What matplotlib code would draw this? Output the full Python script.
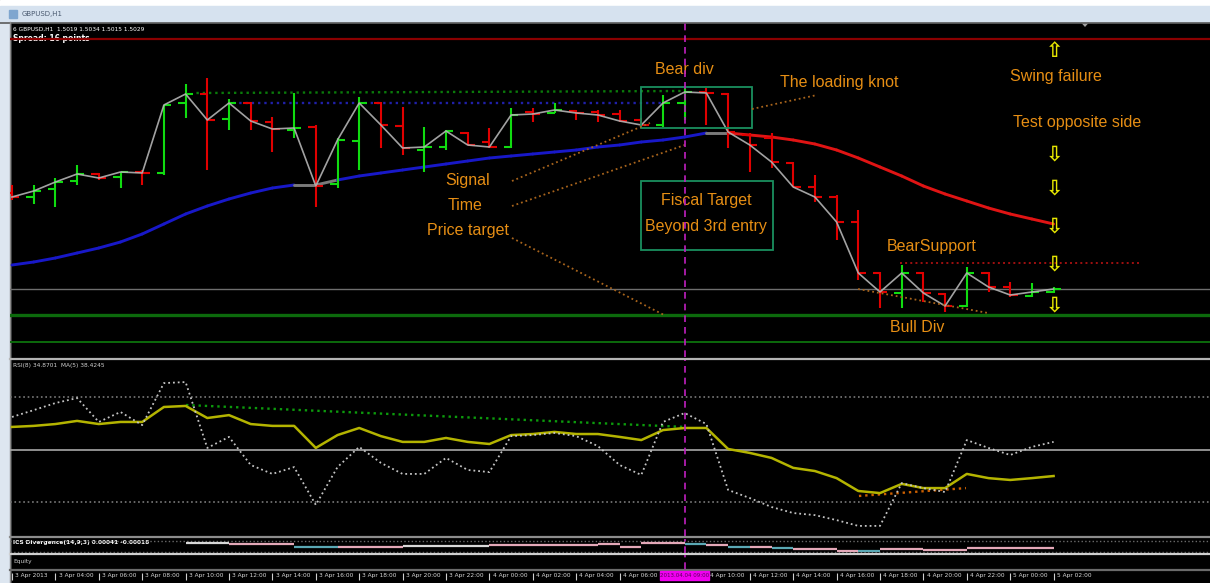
import matplotlib
matplotlib.use('Agg')
import matplotlib.pyplot as plt
from matplotlib.patches import Rectangle

# ---- data (GBPUSD H1) ----
opens = [1.5279, 1.5275, 1.5283, 1.5291, 1.5298, 1.5295, 1.5300, 1.5299, 1.5369, 1.5378,
         1.5353, 1.5369, 1.5350, 1.5342, 1.5345, 1.5288, 1.5331, 1.5369, 1.5346, 1.5322,
         1.5325, 1.5339, 1.5330, 1.5325, 1.5360, 1.5359, 1.5361, 1.5360, 1.5358, 1.5352,
         1.5347, 1.5369, 1.5380, 1.5378, 1.5337, 1.5334, 1.5309, 1.5285, 1.5275, 1.5250,
         1.5199, 1.5179, 1.5199, 1.5178, 1.5166, 1.5199, 1.5185, 1.5176, 1.5180]
highs = [1.5287, 1.5287, 1.5294, 1.5307, 1.5299, 1.5300, 1.5302, 1.5367, 1.5388, 1.5394,
         1.5373, 1.5370, 1.5355, 1.5379, 1.5347, 1.5334, 1.5375, 1.5370, 1.5365, 1.5345,
         1.5342, 1.5340, 1.5344, 1.5364, 1.5364, 1.5369, 1.5362, 1.5362, 1.5362, 1.5354,
         1.5377, 1.5384, 1.5384, 1.5379, 1.5339, 1.5339, 1.5310, 1.5297, 1.5277, 1.5262,
         1.5200, 1.5207, 1.5200, 1.5179, 1.5205, 1.5200, 1.5190, 1.5189, 1.5185]
lows = [1.5272, 1.5268, 1.5265, 1.5287, 1.5292, 1.5284, 1.5287, 1.5297, 1.5354, 1.5302,
        1.5342, 1.5342, 1.5320, 1.5334, 1.5265, 1.5284, 1.5302, 1.5324, 1.5317, 1.5300,
        1.5322, 1.5327, 1.5324, 1.5324, 1.5350, 1.5359, 1.5352, 1.5350, 1.5350, 1.5346,
        1.5345, 1.5352, 1.5347, 1.5324, 1.5300, 1.5304, 1.5285, 1.5270, 1.5232, 1.5192,
        1.5164, 1.5164, 1.5170, 1.5160, 1.5165, 1.5180, 1.5175, 1.5175, 1.5179]
closes = [1.5275, 1.5281, 1.5290, 1.5298, 1.5294, 1.5300, 1.5299, 1.5367, 1.5378, 1.5352,
          1.5369, 1.5351, 1.5343, 1.5344, 1.5286, 1.5332, 1.5369, 1.5347, 1.5324, 1.5325,
          1.5341, 1.5327, 1.5325, 1.5357, 1.5358, 1.5362, 1.5359, 1.5357, 1.5351, 1.5347,
          1.5369, 1.5380, 1.5379, 1.5340, 1.5327, 1.5310, 1.5285, 1.5275, 1.5250, 1.5199,
          1.5180, 1.5199, 1.5179, 1.5166, 1.5199, 1.5185, 1.5177, 1.5180, 1.5183]

ma = [1.5207, 1.5210, 1.5214, 1.5219, 1.5224, 1.5230, 1.5238, 1.5248, 1.5258, 1.5266,
      1.5273, 1.5279, 1.5284, 1.5287, 1.5287, 1.5292, 1.5296, 1.5299, 1.5302, 1.5305,
      1.5308, 1.5311, 1.5314, 1.5316, 1.5318, 1.5320, 1.5322, 1.5325, 1.5327, 1.5330,
      1.5332, 1.5335, 1.5339, 1.5339, 1.5337, 1.5335, 1.5332, 1.5328, 1.5322, 1.5314,
      1.5305, 1.5296, 1.5286, 1.5278, 1.5271, 1.5264, 1.5258, 1.5253, 1.5248]
ma_trend = ['u'] * 14 + ['f', 'f'] + ['u'] * 17 + ['f'] + ['d'] * 15

rsi = [62.4, 65.0, 67.7, 69.6, 60.5, 64.3, 59.3, 75.3, 75.7, 50.6,
       54.8, 44.1, 40.7, 43.3, 28.9, 43.3, 51.0, 44.9, 40.7, 40.7,
       46.8, 42.2, 41.4, 55.1, 55.5, 56.3, 55.1, 51.3, 44.1, 40.3,
       60.5, 63.9, 59.7, 34.6, 31.5, 28.1, 25.8, 25.0, 23.1, 20.9,
       20.9, 37.2, 35.3, 33.8, 53.6, 50.6, 47.9, 51.0, 52.9]
rsi_ma = [58.6, 59.0, 59.7, 60.9, 59.7, 60.5, 60.5, 66.2, 66.6, 62.0,
          63.1, 59.7, 59.0, 59.0, 50.6, 55.5, 58.2, 55.1, 52.9, 52.9,
          54.4, 52.9, 52.1, 55.5, 55.9, 56.7, 55.9, 55.9, 54.8, 53.6,
          57.4, 58.2, 58.2, 50.2, 48.7, 46.8, 43.0, 41.8, 39.1, 34.2,
          33.4, 36.9, 35.3, 35.3, 40.7, 39.1, 38.4, 39.1, 39.9]
rsi_levels = [70, 50, 30]

strip_start = 8
strip_vals = [10, 10, 9, 9, 9, 6, 6, 6, 6, 6, 7, 7, 7, 7, 8, 8, 8, 8, 8, 9,
              6, 10, 10, 9, 8, 6, 6, 5, 4, 4, 2, 2, 4, 4, 3, 3, 5, 5, 5, 5]
strip_cols = ['w', 'w', 'p', 'p', 'p', 't', 't', 'p', 'p', 'p', 'w', 'w', 'w', 'w', 'p', 'p', 'p', 'p', 'p', 'p',
              'p', 'p', 'p', 't', 'p', 't', 'p', 't', 'p', 'p', 'p', 't', 'p', 'p', 'p', 'p', 'p', 'p', 'p', 'p']

time_labels = ['3 Apr 2013', '3 Apr 04:00', '3 Apr 06:00', '3 Apr 08:00', '3 Apr 10:00',
               '3 Apr 12:00', '3 Apr 14:00', '3 Apr 16:00', '3 Apr 18:00', '3 Apr 20:00',
               '3 Apr 22:00', '4 Apr 00:00', '4 Apr 02:00', '4 Apr 04:00', '4 Apr 06:00',
               '4 Apr 08:00', '4 Apr 10:00', '4 Apr 12:00', '4 Apr 14:00', '4 Apr 16:00',
               '4 Apr 18:00', '4 Apr 20:00', '4 Apr 22:00', '5 Apr 00:00', '5 Apr 02:00']
cursor_bar = 31
cursor_label = '2013.04.04 09:00'

# ---- layout helpers ----
W, H = 1210, 583
BAR_PX, FIRST_PX = 21.7, 12
XLIM = ((10 - FIRST_PX) / BAR_PX, (W - FIRST_PX) / BAR_PX)

fig = plt.figure(figsize=(W / 100, H / 100), dpi=100)
fig.patch.set_facecolor('black')


def px_axes(x0, y0, x1, y1):
    ax = fig.add_axes([x0 / W, 1 - y1 / H, (x1 - x0) / W, (y1 - y0) / H])
    ax.set_facecolor('none')
    ax.set_axis_off()
    return ax


# window frame
bg = px_axes(0, 0, W, H)
bg.set_xlim(0, W)
bg.set_ylim(H, 0)
bg.add_patch(Rectangle((0, 0), W, 6, color='white'))
bg.add_patch(Rectangle((0, 6), W, 16, color='#d6e2ef'))
bg.add_patch(Rectangle((0, 22), 10, H - 22, color='#dde6f0'))
bg.add_patch(Rectangle((9, 10), 8, 8, color='#7fa6cf'))
bg.text(22, 14, 'GBPUSD,H1', color='#4a5a70', fontsize=5, va='center')
bg.axhline(22.5, color='#5a5a5a', lw=1.2)
bg.plot([9.5, 9.5], [22, H], color='#8a8a8a', lw=1)
bg.fill([1081, 1089, 1085], [22.5, 22.5, 27], color='#a0a0a0', lw=0)
for y, c in [(358.5, '#b4b4b4'), (537, '#8c8c8c'), (554, '#cfcfcf'), (569.5, '#6a6a6a')]:
    bg.plot([10, W], [y, y], color=c, lw=1.6)
bg.text(13, 29.5, '6 GBPUSD,H1  1.5019 1.5034 1.5015 1.5029', color='white', fontsize=4.2, va='center')
bg.text(13, 38.5, 'Spread: 16 points', color='white', fontsize=5.5, fontweight='bold', va='center', zorder=5)
bg.text(13, 366, 'RSI(8) 34.8701  MA(5) 38.4245', color='#d0d0d0', fontsize=4.2, va='center')
bg.text(13, 542.5, 'ICS Divergence(14,9,3) 0.00041 -0.00018', color='white', fontsize=4.2,
        fontweight='bold', va='center', zorder=5)
bg.text(13, 561, 'Equity', color='#c8c8c8', fontsize=4.2, va='center')

ORANGE = '#e68e14'
DOT_OR = '#a8641c'
tfont = dict(family='Liberation Sans', fontsize=11.5, color=ORANGE, ha='center', va='center')

# ---- main price window ----
ax = px_axes(10, 23, W, 357)
ax.set_xlim(*XLIM)
ax.set_ylim(1.5115, 1.5449)

ax.axhline(1.5433, color='#8b0000', lw=1.6, zorder=1)
ax.axhline(1.5183, color='#6e6e6e', lw=1.0, zorder=1)
ax.axhline(1.5157, color='#0c6a0c', lw=2.4, zorder=1)
ax.axhline(1.5130, color='#0c6a0c', lw=1.4, zorder=1)
ax.plot([8.5, 31.0], [1.5379, 1.5381], color='#0a7a0a', ls=':', lw=1.7, zorder=1)
ax.plot([10.2, 30.0], [1.5369, 1.5369], color='#2020a8', ls=':', lw=1.7, zorder=1)
ax.plot([40.9, 52.0], [1.5209, 1.5209], color='#a01010', ls=':', lw=1.4, zorder=1)

# moving average, coloured by trend state
ma_cols = {'u': '#1818c8', 'f': '#7a7a7a', 'd': '#e01414'}
for i in range(1, len(ma)):
    ax.plot([i - 1, i], [ma[i - 1], ma[i]], color=ma_cols[ma_trend[i]], lw=2.1,
            solid_capstyle='round', zorder=2)

# OHLC bars
for i in range(len(opens)):
    col = '#10dc10' if closes[i] >= opens[i] else '#e00000'
    ax.vlines(i, lows[i], highs[i], color=col, lw=1.5, zorder=3)
    ax.hlines(opens[i], i - 0.34, i, color=col, lw=1.5, zorder=3)
    ax.hlines(closes[i], i, i + 0.34, color=col, lw=1.5, zorder=3)
ax.plot(range(len(closes)), closes, color='#b4b4b4', lw=1.2, alpha=0.9, zorder=4)

# annotation objects
ax.add_patch(Rectangle((28.99, 1.5344), 5.11, 0.0041, fill=False, ec='#1a8f5f', lw=1.3, zorder=5))
ax.add_patch(Rectangle((29.0, 1.5222), 6.07, 0.0069, fill=False, ec='#1a8f5f', lw=1.3, zorder=5))
for (xa, ya), (xb, yb) in [((34.1, 1.5363), (37.1, 1.5377)),
                           ((23.04, 1.5291), (29.4, 1.5349)),
                           ((23.04, 1.5266), (31.0, 1.5327)),
                           ((23.04, 1.5234), (30.05, 1.5157)),
                           ((38.99, 1.5183), (44.98, 1.5159))]:
    ax.plot([xa, xb], [ya, yb], color=DOT_OR, ls=':', lw=1.3, zorder=5)

ax.text(31.0, 1.5402, 'Bear div', **tfont)
ax.text(38.1, 1.5390, 'The loading knot', **tfont)
ax.text(48.1, 1.5395, 'Swing failure', **tfont)
ax.text(49.1, 1.5349, 'Test opposite side', **tfont)
ax.text(21.0, 1.5291, 'Signal', **tfont)
ax.text(20.9, 1.5266, 'Time', **tfont)
ax.text(21.0, 1.5241, 'Price target', **tfont)
ax.text(32.0, 1.5272, 'Fiscal Target', **tfont)
ax.text(32.0, 1.5246, 'Beyond 3rd entry', **tfont)
ax.text(42.4, 1.5226, 'BearSupport', **tfont)
ax.text(41.7, 1.5144, 'Bull Div', **tfont)

afont = dict(family='DejaVu Sans', fontsize=15, fontweight='bold', color='#e6e600', ha='center', va='center')
ax.text(48.06, 1.5421, '\u21e7', **afont)
for p in [1.5318, 1.5284, 1.5246, 1.5208, 1.5167]:
    ax.text(48.06, p, '\u21e9', **afont)

# ---- RSI window ----
ar = px_axes(10, 360, W, 536)
ar.set_xlim(*XLIM)
ar.set_ylim(17.05, 84.1)
for lv in rsi_levels:
    if lv == 50:
        ar.axhline(lv, color='#a8a8a8', lw=1.2)
    else:
        ar.axhline(lv, color='#7a7a7a', ls=':', lw=1.2)
ar.plot([8.02, 31.0], [66.95, 58.6], color='#0c9a0c', ls=':', lw=1.7)
ar.plot([39.03, 43.96], [32.3, 35.3], color='#cc6000', ls=':', lw=1.7)
ar.plot(range(len(rsi_ma)), rsi_ma, color='#b4b400', lw=1.8)
ar.plot(range(len(rsi)), rsi, color='#c4c4c4', ls=':', lw=1.3)

# ---- small indicator strip ----
st = px_axes(10, 539, W, 553)
st.set_xlim(*XLIM)
st.set_ylim(0, 14)
st.axhline(12, color='#6a6a6a', ls=':', lw=1)
st.axhline(1.5, color='#6a6a6a', ls=':', lw=1)
scol = {'p': '#e4a8b8', 't': '#5aa8b4', 'w': '#d8d8d8'}
for k, (v, c) in enumerate(zip(strip_vals, strip_cols)):
    i = strip_start + k
    st.hlines(v, i, i + 1, color=scol[c], lw=1.6)

# ---- equity strip ----
eq = px_axes(10, 555, W, 569)
eq.set_xlim(*XLIM)
eq.set_ylim(0, 1)

# ---- time axis ----
at = px_axes(10, 570, W, H)
at.set_xlim(*XLIM)
at.set_ylim(1, 0)
box_half = 1.12
for k, lab in enumerate(time_labels):
    b = 2 * k
    at.vlines(b, 0.2, 0.75, color='#cfcfcf', lw=0.8)
    if b < cursor_bar and b + 2 > cursor_bar:
        continue  # hidden under the cursor date box
    x_txt = max(b + 0.15, cursor_bar + box_half + 0.05) if b > cursor_bar and b < cursor_bar + 2 else b + 0.15
    at.text(x_txt, 0.45, lab, color='#d8d8d8', fontsize=4.2, va='center')
at.add_patch(Rectangle((cursor_bar - box_half, 0.05), 2 * box_half, 0.75, color='#f000f0', zorder=5))
at.text(cursor_bar, 0.43, cursor_label, color='#5a005a', fontsize=4.0, ha='center', va='center', zorder=6)

# cursor line through all windows
for a in (ax, ar, st, eq):
    a.axvline(cursor_bar, color='#c020c0', lw=1.2, ls=(0, (4, 3)), zorder=6)

fig.savefig('out.png', dpi=100, facecolor='black')
